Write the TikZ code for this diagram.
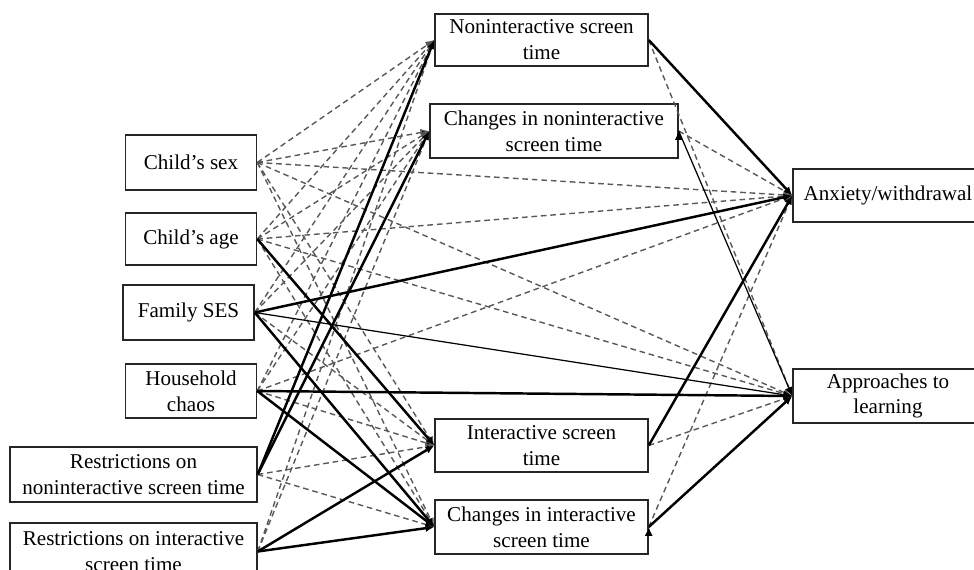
\documentclass[tikz,border=0pt]{standalone}
\usepackage{fontspec}
\setmainfont{Liberation Serif}
\usetikzlibrary{arrows.meta}

\tikzset{
    var/.style={draw=black!85, line width=0.85pt, fill=white, align=center, inner sep=2pt,
        font=\fontsize{12}{14.7}\selectfont},
    dep/.style={-{Latex[length=5pt, width=4.4pt]}},
    nonsig/.style={dep, draw=black!65, line width=0.8pt, dash pattern=on 3.2pt off 2.2pt},
    sig/.style={dep, line width=1.4pt},
    weak/.style={dep, line width=0.7pt}
}

\begin{document}
\begin{tikzpicture}[x=0.02cm, y=-0.02cm]
        \useasboundingbox (0, 0) rectangle (974, 570);

        % covariates and restrictions
        \node[var, minimum width=2.62cm, minimum height=1.1cm] (sex) at (191, 162.5) {Child's sex};
        \node[var, minimum width=2.62cm, minimum height=1.04cm] (age) at (191, 239) {Child's age};
        \node[var, minimum width=2.62cm, minimum height=1.1cm] (ses) at (188.5, 312.5) {Family SES};
        \node[var, minimum width=2.62cm, minimum height=1.08cm] (chaos) at (191, 391) {Household\\chaos};
        \node[var, minimum width=4.94cm, minimum height=1.1cm] (rnon) at (133.5, 474.5) {Restrictions on\\noninteractive screen time};
        \node[var, minimum width=4.94cm, minimum height=1.14cm] (rint) at (133.5, 551.5) {Restrictions on interactive\\screen time};

        % screen time
        \node[var, minimum width=4.26cm, minimum height=1.04cm] (non) at (541.5, 40) {Noninteractive screen\\time};
        \node[var, minimum width=4.96cm, minimum height=1.08cm] (chnon) at (554, 131) {Changes in noninteractive\\screen time};
        \node[var, minimum width=4.26cm, minimum height=1.06cm] (int) at (541.5, 445.5) {Interactive screen\\time};
        \node[var, minimum width=4.26cm, minimum height=1.08cm] (chint) at (541.5, 527) {Changes in interactive\\screen time};

        % outcomes
        \node[var, minimum width=3.8cm, minimum height=1.06cm] (anx) at (888, 195.5) {Anxiety/withdrawal};
        \node[var, minimum width=3.8cm, minimum height=1.08cm] (app) at (888, 396) {Approaches to\\learning};

        \draw[nonsig] (sex.east) edge (non.west) edge (chnon.west) edge (int.west)
                edge (chint.west) edge (anx.west) edge (app.west)
            (age.east) edge (non.west) edge (chnon.west) edge (chint.west)
                edge (anx.west) edge (app.west)
            (ses.east) edge (non.west) edge (chnon.west) edge (int.west)
            (chaos.east) edge (non.west) edge (chnon.west) edge (int.west) edge (anx.west)
            (rnon.east) edge (int.west) edge (chint.west)
            (rint.east) edge (non.west) edge (chnon.west)
            (non.east) edge (app.west)
            (chnon.east) edge (anx.west)
            (int.east) edge (app.west)
            (chint.east) edge (anx.west);
        \draw[weak] (ses.east) edge (app.west)
            (chnon.east) edge (app.west);
        \draw[sig] (age.east) edge (int.west)
            (ses.east) edge (chint.west) edge (anx.west)
            (chaos.east) edge (chint.west) edge (app.west)
            (rnon.east) edge (non.west) edge (chnon.west)
            (rint.east) edge (int.west) edge (chint.west)
            (non.east) edge (anx.west)
            (int.east) edge (anx.west)
            (chint.east) edge (app.west);
    \end{tikzpicture}
\end{document}
